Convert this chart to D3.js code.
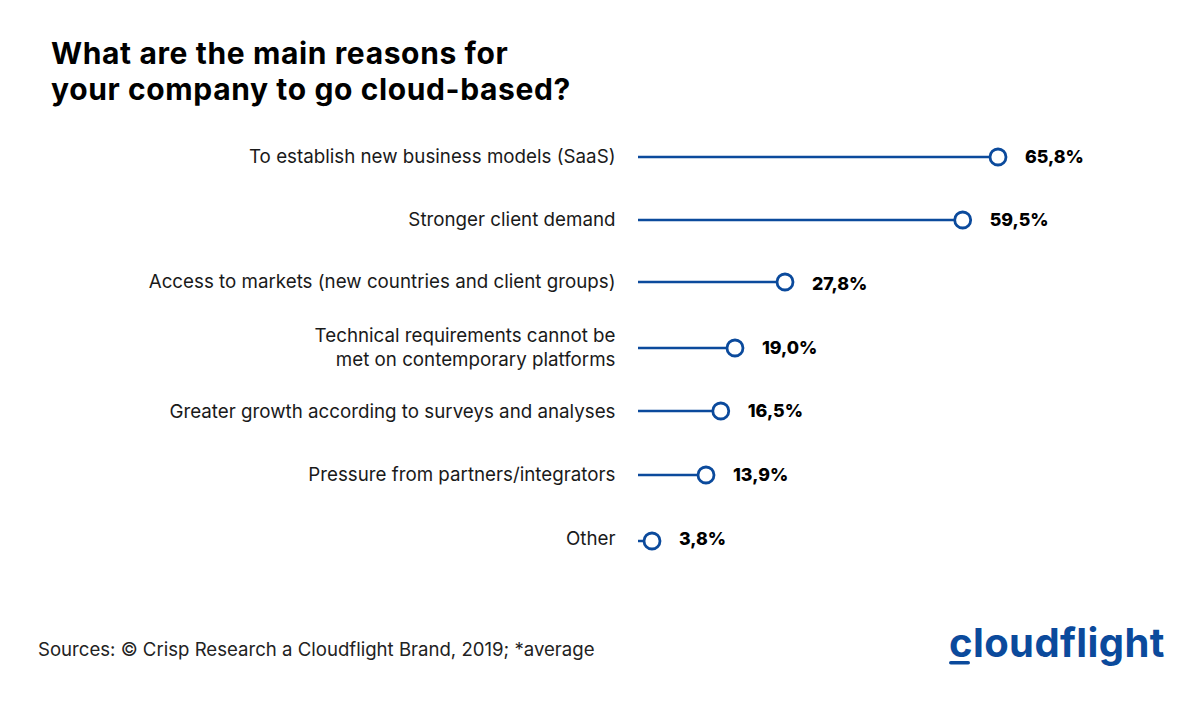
<!DOCTYPE html>
<html>
<head>
<meta charset="utf-8">
<script src="https://cdn.jsdelivr.net/npm/d3@7"></script>
<style>
  html, body { margin: 0; padding: 0; background: #fff; }
  text { font-family: Inter, "Open Sans", sans-serif; }
</style>
</head>
<body>
<svg class="chart" width="1200" height="706"></svg>
<script>
var titleLines = ["What are the main reasons for", "your company to go cloud-based?"];
var categories = [
    ["To establish new business models (SaaS)"],
    ["Stronger client demand"],
    ["Access to markets (new countries and client groups)"],
    ["Technical requirements cannot be", "met on contemporary platforms"],
    ["Greater growth according to surveys and analyses"],
    ["Pressure from partners/integrators"],
    ["Other"]
];
var values = [65.8, 59.5, 27.8, 19.0, 16.5, 13.9, 3.8];
var source = "Sources: \u00A9 Crisp Research a Cloudflight Brand, 2019; *average";
var logoText = "cloudflight";

var blue = "#0b4a9c";
var svg = d3.select(".chart");

// the picture's bars are not quite linear, so the scale is piecewise to follow them
var x = d3.scaleLinear()
    .domain([0, 3.8, 13.9, 27.8, 65.8])
    .range([638, 652, 706, 785, 998]);

var rows = d3.range(categories.length);
var y = d3.scaleOrdinal().domain(rows).range([157, 220, 282, 348, 411, 475, 541]);
var labelY = d3.scaleOrdinal().domain(rows).range([163, 226, 288, 348, 418, 481, 545]);
var valueY = d3.scaleOrdinal().domain(rows).range([163, 226, 290, 354, 417, 481, 545]);

var fmt = function(v){ return v.toFixed(1).replace(".", ",") + "%"; };

svg.selectAll(".title")
    .data(titleLines)
    .enter().append("text")
    .attr("class", "title")
    .attr("x", 51)
    .attr("y", function(d, i){ return 64 + i * 36; })
    .attr("font-size", 30)
    .attr("font-weight", 700)
    .attr("letter-spacing", 0.62)
    .attr("fill", "#000")
    .text(function(d){ return d; });

var row = svg.selectAll(".row")
    .data(values)
    .enter().append("g")
    .attr("class", "row");

row.append("line")
    .attr("x1", x(0))
    .attr("x2", function(d){ return x(d); })
    .attr("y1", function(d, i){ return y(i); })
    .attr("y2", function(d, i){ return y(i); })
    .attr("stroke", blue)
    .attr("stroke-width", 2.5);

row.append("circle")
    .attr("cx", function(d){ return x(d); })
    .attr("cy", function(d, i){ return y(i); })
    .attr("r", 8)
    .attr("fill", "#fff")
    .attr("stroke", blue)
    .attr("stroke-width", 2.8);

row.append("text")
    .attr("x", function(d){ return x(d) + 27; })
    .attr("y", function(d, i){ return valueY(i); })
    .attr("font-size", 17.8)
    .attr("font-weight", 800)
    .attr("fill", "#000")
    .text(fmt);

row.each(function(d, i){
    var lines = categories[i];
    d3.select(this).selectAll(".label")
        .data(lines)
        .enter().append("text")
        .attr("class", "label")
        .attr("x", 615.5)
        .attr("y", function(l, j){ return labelY(i) - 6 * (lines.length > 1) + j * 24; })
        .attr("text-anchor", "end")
        .attr("font-size", 18.75)
        .attr("fill", "#1a1a1a")
        .text(function(l){ return l; });
});

svg.append("text")
    .attr("x", 38)
    .attr("y", 656)
    .attr("font-size", 18.6)
    .attr("fill", "#222")
    .text(source);

svg.append("text")
    .attr("x", 949)
    .attr("y", 657)
    .attr("font-size", 40)
    .attr("font-weight", 700)
    .attr("letter-spacing", 0.4)
    .attr("fill", blue)
    .text(logoText);

svg.append("rect")
    .attr("x", 949)
    .attr("y", 661)
    .attr("width", 21)
    .attr("height", 3.5)
    .attr("rx", 1.75)
    .attr("fill", blue);
</script>
</body>
</html>
